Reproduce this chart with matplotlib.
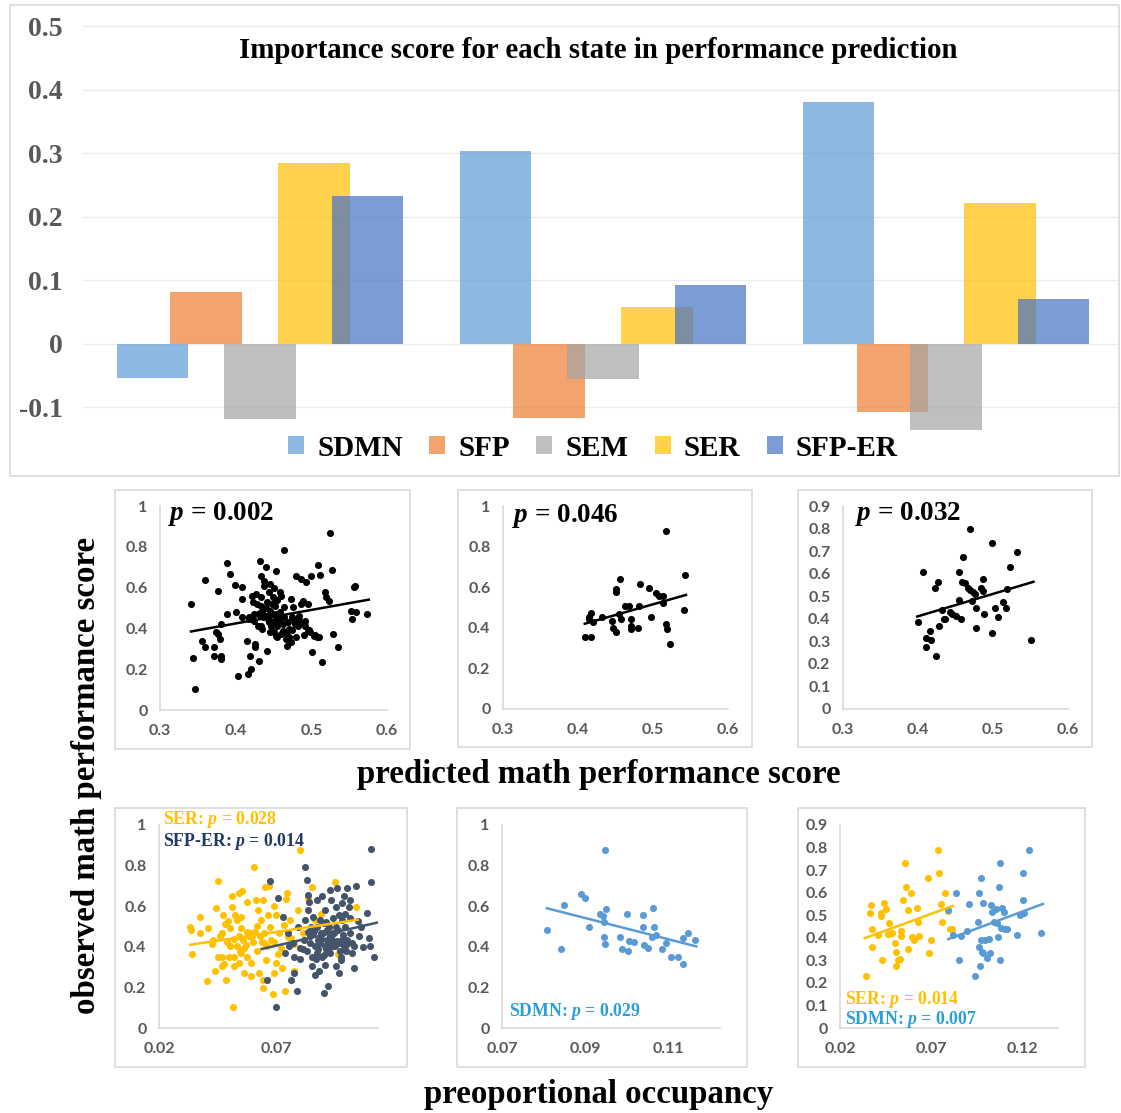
import matplotlib
matplotlib.use("Agg")
import matplotlib.pyplot as plt
from matplotlib.patches import Rectangle
import numpy as np

plt.rcParams["mathtext.fontset"] = "custom"
plt.rcParams["mathtext.it"] = "Liberation Serif:italic:bold"
plt.rcParams["mathtext.rm"] = "Liberation Serif:bold"
plt.rcParams["mathtext.bf"] = "Liberation Serif:bold"

W, H = 1121, 1113

# ---------------- data: importance scores ----------------
series_names = ["SDMN", "SFP", "SEM", "SER", "SFP-ER"]
groups = [0, 1, 2]
sdmn_imp = [-0.054, 0.304, 0.380]
sfp_imp = [0.082, -0.117, -0.108]
sem_imp = [-0.118, -0.056, -0.136]
ser_imp = [0.285, 0.058, 0.222]
sfper_imp = [0.233, 0.093, 0.071]
imp_ticks = [-0.1, 0, 0.1, 0.2, 0.3, 0.4, 0.5]
imp_tick_labels = ["-0.1", "0", "0.1", "0.2", "0.3", "0.4", "0.5"]
title = "Importance score for each state in performance prediction"

# ---------------- data: predicted vs observed ----------------
p1_x = [0.341,0.344,0.346,0.356,0.359,0.359,0.371,0.371,0.374,0.376,
        0.376,0.379,0.380,0.380,0.381,0.388,0.388,0.392,0.399,0.401,
        0.403,0.408,0.408,0.408,0.415,0.416,0.418,0.418,0.419,0.420,
        0.422,0.423,0.424,0.424,0.426,0.426,0.427,0.428,0.429,0.431,
        0.432,0.433,0.433,0.433,0.434,0.434,0.435,0.436,0.437,0.438,
        0.440,0.441,0.442,0.443,0.444,0.444,0.445,0.446,0.447,0.449,
        0.449,0.450,0.451,0.452,0.453,0.453,0.455,0.456,0.458,0.459,
        0.460,0.462,0.464,0.464,0.464,0.467,0.468,0.469,0.471,0.473,
        0.473,0.474,0.476,0.478,0.480,0.480,0.482,0.484,0.486,0.487,
        0.489,0.491,0.491,0.493,0.495,0.496,0.498,0.500,0.501,0.503,
        0.507,0.509,0.512,0.514,0.518,0.520,0.523,0.525,0.527,0.528,
        0.535,0.552,0.554,0.557,0.558,0.574,0.559,
        0.447,0.452,0.458,0.462,0.455,0.440,0.430,0.421,0.486,0.490,
        0.497,0.505,0.510,0.470,0.468,0.448,0.455,0.460,0.445,0.450,
        0.475,0.478,0.482,0.435,0.440]
p1_y = [0.520,0.257,0.102,0.339,0.307,0.639,0.307,0.266,0.380,0.585,
        0.372,0.348,0.266,0.249,0.421,0.470,0.721,0.667,0.613,0.479,
        0.167,0.602,0.544,0.454,0.339,0.175,0.454,0.446,0.266,0.200,
        0.560,0.528,0.470,0.438,0.323,0.307,0.570,0.520,0.413,0.241,
        0.728,0.554,0.511,0.479,0.413,0.659,0.397,0.454,0.610,0.634,
        0.700,0.528,0.290,0.446,0.577,0.430,0.487,0.380,0.470,0.552,
        0.430,0.438,0.380,0.511,0.682,0.364,0.413,0.454,0.479,0.577,
        0.372,0.387,0.782,0.454,0.503,0.348,0.315,0.430,0.397,0.331,
        0.544,0.454,0.503,0.430,0.659,0.356,0.446,0.462,0.520,0.643,
        0.536,0.413,0.438,0.629,0.520,0.389,0.380,0.659,0.282,0.364,
        0.356,0.711,0.664,0.233,0.577,0.552,0.536,0.869,0.684,0.372,
        0.307,0.487,0.446,0.602,0.610,0.470,0.479,
        0.41,0.47,0.43,0.42,0.36,0.46,0.47,0.45,0.43,0.37,
        0.39,0.37,0.36,0.36,0.37,0.52,0.54,0.56,0.62,0.60,
        0.39,0.42,0.41,0.48,0.50]
p1_trend_x = [0.341, 0.576]
p1_trend_y = [0.385, 0.541]

p2_x = [0.409,0.417,0.414,0.417,0.415,0.420,0.432,0.445,0.446,0.450,
        0.451,0.450,0.454,0.456,0.457,0.463,0.468,0.470,0.471,0.471,
        0.481,0.480,0.483,0.494,0.497,0.504,0.508,0.513,0.513,0.517,
        0.517,0.518,0.522,0.541,0.543]
p2_y = [0.355,0.355,0.453,0.471,0.441,0.430,0.453,0.433,0.397,0.380,
        0.574,0.590,0.466,0.640,0.441,0.507,0.507,0.441,0.408,0.392,
        0.507,0.397,0.615,0.595,0.453,0.569,0.557,0.557,0.521,0.879,
        0.417,0.392,0.321,0.486,0.661]
p2_trend_x = [0.409, 0.544]
p2_trend_y = [0.420, 0.562]

p3_x = [0.400,0.406,0.410,0.411,0.416,0.417,0.422,0.424,0.426,0.428,
        0.432,0.434,0.436,0.442,0.445,0.450,0.454,0.454,0.457,0.458,
        0.460,0.462,0.466,0.469,0.469,0.472,0.473,0.476,0.477,0.477,
        0.484,0.486,0.486,0.488,0.498,0.498,0.502,0.506,0.513,0.517,
        0.519,0.523,0.532,0.551]
p3_y = [0.387,0.608,0.277,0.314,0.347,0.305,0.537,0.233,0.562,0.366,
        0.440,0.399,0.399,0.429,0.422,0.414,0.484,0.608,0.399,0.564,
        0.673,0.559,0.538,0.798,0.526,0.481,0.519,0.508,0.447,0.359,
        0.538,0.523,0.576,0.419,0.736,0.338,0.447,0.407,0.474,0.447,
        0.532,0.631,0.694,0.305]
p3_trend_x = [0.399, 0.554]
p3_trend_y = [0.410, 0.564]

# ---------------- data: occupancy vs observed ----------------
p4_ser_x = [0.0333,0.0338,0.0342,0.0377,0.0377,0.0403,0.0425,0.0439,0.0442,0.0454,
            0.0461,0.0468,0.0475,0.0478,0.0483,0.0487,0.0493,0.0497,0.0504,0.0512,
            0.0512,0.0516,0.0519,0.0522,0.0526,0.0533,0.0541,0.0541,0.0545,0.0548,
            0.0551,0.0555,0.0559,0.0562,0.0570,0.0574,0.0577,0.0584,0.0588,0.0594,
            0.0603,0.0606,0.0609,0.0613,0.0620,0.0623,0.0628,0.0635,0.0638,0.0642,
            0.0646,0.0649,0.0652,0.0657,0.0661,0.0667,0.0671,0.0678,0.0686,0.0690,
            0.0693,0.0700,0.0707,0.0714,0.0725,0.0736,0.0743,0.0748,0.0751,0.0758,
            0.0765,0.0777,0.0794,0.0803,0.0813,0.0852,0.0893,0.0951,0.0965,0.1041,
            0.0410,0.0432,0.0471,0.0490,0.0501,0.0533,0.0548,0.0565,0.0577,0.0599,
            0.0617,0.0632,0.0649,0.0675,0.0693,0.0722,0.0733,0.0777,0.0835,0.0864,
            0.0454,0.0468,0.0519,0.0541,0.0591,0.0646,0.0700]
p4_ser_y = [0.500,0.484,0.366,0.549,0.467,0.230,0.415,0.279,0.590,0.726,
            0.451,0.352,0.557,0.316,0.513,0.238,0.525,0.352,0.402,0.648,
            0.598,0.103,0.438,0.303,0.557,0.533,0.664,0.451,0.377,0.546,
            0.492,0.677,0.434,0.270,0.410,0.623,0.352,0.451,0.470,0.254,
            0.426,0.792,0.475,0.631,0.377,0.582,0.270,0.533,0.426,0.197,
            0.631,0.470,0.693,0.336,0.402,0.557,0.700,0.434,0.169,0.270,
            0.602,0.557,0.366,0.470,0.295,0.180,0.634,0.667,0.448,0.533,
            0.443,0.415,0.582,0.877,0.470,0.693,0.562,0.721,0.366,0.598,
            0.492,0.434,0.467,0.426,0.492,0.402,0.369,0.393,0.475,0.451,
            0.503,0.451,0.418,0.500,0.426,0.393,0.508,0.279,0.639,0.533,
            0.352,0.303,0.352,0.320,0.320,0.238,0.320]
p4_ser_trend_x = [0.0333, 0.1048]
p4_ser_trend_y = [0.410, 0.533]

p4_sfper_x = [0.0675,0.0700,0.0661,0.0707,0.0728,0.0736,0.0762,0.0777,0.0788,0.0803,
              0.0823,0.0830,0.0835,0.0838,0.0846,0.0852,0.0855,0.0859,0.0867,0.0874,
              0.0878,0.0884,0.0888,0.0896,0.0900,0.0903,0.0907,0.0910,0.0917,0.0922,
              0.0925,0.0928,0.0932,0.0936,0.0939,0.0942,0.0946,0.0951,0.0954,0.0957,
              0.0961,0.0965,0.0968,0.0975,0.0980,0.0983,0.0990,0.0996,0.0999,0.1004,
              0.1012,0.1017,0.1026,0.1032,0.1043,0.1048,0.1088,0.1096,0.1099,0.1103,
              0.1106,0.1120,0.0751,0.0772,0.0794,0.0800,0.0817,0.0823,0.0838,0.0859,
              0.0874,0.0888,0.0903,0.0917,0.0932,0.0946,0.0968,0.0983,0.1004,0.1017,
              0.1032,0.0910,0.0968,0.0867,0.0830,0.0777,0.0755,0.0925,0.0990,0.1055,
              0.1062,0.0896,0.0874,
              0.0845,0.0862,0.0880,0.0893,0.0905,0.0915,0.0930,0.0944,0.0958,0.0972,
              0.0986,0.1000,0.1015,0.0850,0.0870,0.0890,0.0912,0.0935,0.0955,0.0978,
              0.0995,0.1022,0.0815,0.0840,0.1070]
p4_sfper_y = [0.726,0.103,0.238,0.639,0.549,0.369,0.238,0.270,0.180,0.339,
              0.795,0.730,0.656,0.582,0.451,0.303,0.352,0.549,0.402,0.500,
              0.434,0.279,0.533,0.352,0.467,0.172,0.402,0.582,0.434,0.205,
              0.500,0.680,0.369,0.631,0.434,0.541,0.467,0.402,0.598,0.303,
              0.689,0.484,0.557,0.336,0.615,0.434,0.648,0.500,0.377,0.689,
              0.598,0.467,0.369,0.295,0.700,0.525,0.566,0.443,0.402,0.880,
              0.721,0.352,0.467,0.418,0.500,0.393,0.434,0.533,0.475,0.467,
              0.369,0.418,0.516,0.484,0.451,0.402,0.418,0.533,0.434,0.631,
              0.402,0.311,0.270,0.262,0.377,0.352,0.402,0.426,0.402,0.451,
              0.500,0.648,0.631,
              0.420,0.480,0.390,0.440,0.360,0.520,0.400,0.470,0.430,0.380,
              0.460,0.410,0.540,0.500,0.340,0.470,0.390,0.450,0.500,0.350,
              0.560,0.420,0.390,0.620,0.400]
p4_sfper_trend_x = [0.0638, 0.1135]
p4_sfper_trend_y = [0.389, 0.520]

p5_x = [0.0809,0.0843,0.0849,0.0890,0.0900,0.0909,0.0935,0.0943,0.0945,0.0945,
        0.0947,0.0947,0.0951,0.0983,0.0990,0.1002,0.1003,0.1006,0.1017,0.1039,
        0.1040,0.1041,0.1051,0.1061,0.1063,0.1067,0.1071,0.1085,0.1096,0.1107,
        0.1123,0.1135,0.1135,0.1149,0.1164]
p5_y = [0.484,0.390,0.607,0.661,0.638,0.500,0.562,0.552,0.520,0.448,
        0.877,0.413,0.587,0.448,0.390,0.562,0.377,0.430,0.426,0.557,
        0.500,0.408,0.393,0.448,0.593,0.500,0.459,0.390,0.418,0.349,
        0.349,0.315,0.443,0.470,0.434]
p5_trend_x = [0.0808, 0.1168]
p5_trend_y = [0.590, 0.402]

p6_ser_x = [0.0343,0.0363,0.0370,0.0376,0.0376,0.0407,0.0428,0.0422,0.0426,0.0441,
            0.0450,0.0469,0.0465,0.0487,0.0500,0.0506,0.0509,0.0515,0.0530,0.0533,
            0.0533,0.0546,0.0556,0.0561,0.0574,0.0574,0.0589,0.0593,0.0604,0.0619,
            0.0626,0.0635,0.0681,0.0685,0.0700,0.0737,0.0741,0.0752,0.0756,0.0774,
            0.0793,0.0802,0.0815]
p6_ser_y = [0.229,0.512,0.546,0.438,0.361,0.413,0.300,0.509,0.497,0.556,
            0.527,0.465,0.416,0.420,0.379,0.335,0.273,0.300,0.305,0.432,
            0.406,0.568,0.730,0.623,0.524,0.350,0.600,0.403,0.388,0.531,
            0.472,0.406,0.667,0.332,0.391,0.789,0.686,0.549,0.468,0.598,
            0.519,0.438,0.438]
p6_ser_trend_x = [0.0335, 0.0817]
p6_ser_trend_y = [0.398, 0.541]

p6_sdmn_x = [0.0793,0.0820,0.0833,0.0854,0.0863,0.0894,0.0909,0.0941,0.0956,0.0959,
             0.0963,0.0969,0.0972,0.0974,0.0978,0.0981,0.0985,0.0996,0.1006,0.1015,
             0.1024,0.1028,0.1033,0.1043,0.1052,0.1061,0.1065,0.1070,0.1074,0.1076,
             0.1080,0.1089,0.1098,0.1104,0.1117,0.1172,0.1185,0.1200,0.1200,0.1209,
             0.1233,0.1302]
p6_sdmn_y = [0.524,0.413,0.598,0.300,0.409,0.432,0.550,0.229,0.468,0.598,
             0.361,0.273,0.667,0.391,0.339,0.553,0.332,0.391,0.310,0.394,
             0.332,0.546,0.516,0.472,0.527,0.465,0.403,0.623,0.730,0.300,
             0.443,0.531,0.516,0.438,0.438,0.413,0.502,0.686,0.568,0.509,
             0.789,0.423]
p6_sdmn_trend_x = [0.0793, 0.1311]
p6_sdmn_trend_y = [0.394, 0.550]

# ticks
pred_xticks = [0.3, 0.4, 0.5, 0.6]
pred_xticklabels = ["0.3", "0.4", "0.5", "0.6"]
y1_ticks = [0, 0.2, 0.4, 0.6, 0.8, 1.0]
y1_ticklabels = ["0", "0.2", "0.4", "0.6", "0.8", "1"]
y09_ticks = [0, 0.1, 0.2, 0.3, 0.4, 0.5, 0.6, 0.7, 0.8, 0.9]
y09_ticklabels = ["0", "0.1", "0.2", "0.3", "0.4", "0.5", "0.6", "0.7", "0.8", "0.9"]
occ4_xticks = [0.02, 0.07]
occ4_xticklabels = ["0.02", "0.07"]
occ5_xticks = [0.07, 0.09, 0.11]
occ5_xticklabels = ["0.07", "0.09", "0.11"]
occ6_xticks = [0.02, 0.07, 0.12]
occ6_xticklabels = ["0.02", "0.07", "0.12"]

# ---------------- styles ----------------
SERIF = "Liberation Serif"
C_SDMN, C_SFP, C_SEM, C_SER, C_SFPER = "#5B9BD5", "#ED7D31", "#A5A5A5", "#FFC000", "#4472C4"
C_DARK = "#44546A"
GRID = "#D9D9D9"
TICKC = "#595959"

fig = plt.figure(figsize=(W / 100, H / 100), dpi=100)


def ax_px(l, t, r, b):
    return fig.add_axes([l / W, 1 - b / H, (r - l) / W, (b - t) / H])


def box_px(l, t, r, b):
    fig.patches.append(Rectangle((l / W, 1 - b / H), (r - l) / W, (b - t) / H,
                                 transform=fig.transFigure, fill=False,
                                 edgecolor=GRID, lw=1.2, zorder=0))


def ftext(x, y, s, **kw):
    return fig.text(x / W, 1 - y / H, s, **kw)


# ---------------- top bar chart ----------------
box_px(10, 5, 1119, 476)
ax = ax_px(82, 23, 1119, 439)
vals_list = [sdmn_imp, sfp_imp, sem_imp, ser_imp, sfper_imp]
colors = [C_SDMN, C_SFP, C_SEM, C_SER, C_SFPER]
handles = []
g = np.array(groups, dtype=float)
for i, (vals, col) in enumerate(zip(vals_list, colors)):
    bc = ax.bar(g + (i - 2) * 0.1567, vals, width=0.209, color=col, alpha=0.7,
                linewidth=0, zorder=2 + i)
    handles.append(bc)
ax.set_xlim(-0.519, 2.504)
ax.set_ylim(-0.15, 0.505)
ax.set_yticks(imp_ticks)
ax.set_yticklabels(imp_tick_labels)
ax.set_xticks([])
ax.yaxis.grid(True, color="#EEEEEE", lw=1)
ax.set_axisbelow(True)
for s in ax.spines.values():
    s.set_visible(False)
ax.tick_params(axis="y", length=0, pad=14, labelcolor=TICKC)
for lab in ax.get_yticklabels():
    lab.set_fontfamily(SERIF)
    lab.set_fontweight("bold")
    lab.set_fontsize(20)
ax.patch.set_alpha(0)

ftext(598, 50, title, ha="center", va="center", fontsize=20.8,
      fontweight="bold", family=SERIF, color="black")

fig.legend(handles, series_names, loc="center", bbox_to_anchor=(593 / W, 1 - 448 / H),
           ncol=5, frameon=False, prop={"family": SERIF, "weight": "bold", "size": 21},
           handlelength=0.55, handleheight=0.55, handletextpad=0.45, columnspacing=0.9)


# ---------------- scatter panels ----------------
def setup(a, xlim, xt, xtl, ylim, yt, ytl):
    a.set_xlim(*xlim)
    a.set_ylim(*ylim)
    a.set_xticks(xt)
    a.set_xticklabels(xtl)
    a.set_yticks(yt)
    a.set_yticklabels(ytl)
    for k in ("top", "right"):
        a.spines[k].set_visible(False)
    for k in ("left", "bottom"):
        a.spines[k].set_color(GRID)
        a.spines[k].set_linewidth(1.2)
    a.tick_params(length=0, labelcolor=TICKC)
    a.tick_params(axis="y", pad=9)
    a.tick_params(axis="x", pad=10)
    for lab in a.get_xticklabels() + a.get_yticklabels():
        lab.set_fontfamily("Lato")
        lab.set_fontweight("bold")
        lab.set_fontsize(11.5)
    a.patch.set_alpha(0)


MS = 26
LW = 1.8

# row 1
box_px(115, 490, 410, 749)
a1 = ax_px(160, 506, 387, 710)
a1.scatter(p1_x, p1_y, s=MS, color="black", linewidths=0, zorder=3)
a1.plot(p1_trend_x, p1_trend_y, color="black", lw=LW, zorder=4)
setup(a1, (0.3, 0.6), pred_xticks, pred_xticklabels, (0, 1), y1_ticks, y1_ticklabels)

box_px(458, 490, 752, 747)
a2 = ax_px(503, 506, 728, 709)
a2.scatter(p2_x, p2_y, s=MS, color="black", linewidths=0, zorder=3)
a2.plot(p2_trend_x, p2_trend_y, color="black", lw=LW, zorder=4)
setup(a2, (0.3, 0.6), pred_xticks, pred_xticklabels, (0, 1), y1_ticks, y1_ticklabels)

box_px(798, 490, 1092, 747)
a3 = ax_px(843, 506, 1068, 709)
a3.scatter(p3_x, p3_y, s=MS, color="black", linewidths=0, zorder=3)
a3.plot(p3_trend_x, p3_trend_y, color="black", lw=LW, zorder=4)
setup(a3, (0.3, 0.6), pred_xticks, pred_xticklabels, (0, 0.9), y09_ticks, y09_ticklabels)

# row 2
box_px(115, 808, 407, 1067)
a4 = ax_px(159, 825, 378, 1028)
a4.scatter(p4_ser_x, p4_ser_y, s=MS, color=C_SER, linewidths=0, zorder=3)
a4.scatter(p4_sfper_x, p4_sfper_y, s=MS, color=C_DARK, linewidths=0, zorder=3)
a4.plot(p4_ser_trend_x, p4_ser_trend_y, color=C_SER, lw=LW, zorder=4)
a4.plot(p4_sfper_trend_x, p4_sfper_trend_y, color=C_DARK, lw=LW, zorder=4)
setup(a4, (0.02, 0.1135), occ4_xticks, occ4_xticklabels, (0, 1), y1_ticks, y1_ticklabels)

box_px(457, 808, 747, 1067)
a5 = ax_px(502, 825, 720, 1028)
a5.scatter(p5_x, p5_y, s=MS, color=C_SDMN, linewidths=0, zorder=3)
a5.plot(p5_trend_x, p5_trend_y, color=C_SDMN, lw=LW, zorder=4)
setup(a5, (0.07, 0.1225), occ5_xticks, occ5_xticklabels, (0, 1), y1_ticks, y1_ticklabels)

box_px(798, 808, 1085, 1067)
a6 = ax_px(840, 825, 1058, 1028)
a6.scatter(p6_ser_x, p6_ser_y, s=MS, color=C_SER, linewidths=0, zorder=3)
a6.scatter(p6_sdmn_x, p6_sdmn_y, s=MS, color=C_SDMN, linewidths=0, zorder=3)
a6.plot(p6_ser_trend_x, p6_ser_trend_y, color=C_SER, lw=LW, zorder=4)
a6.plot(p6_sdmn_trend_x, p6_sdmn_trend_y, color=C_SDMN, lw=LW, zorder=4)
setup(a6, (0.02, 0.1394), occ6_xticks, occ6_xticklabels, (0, 0.9), y09_ticks, y09_ticklabels)

# annotations
pk = dict(ha="left", va="center", family=SERIF, fontweight="bold")
ftext(168, 514, r"$p$ = 0.002", fontsize=19.5, color="black", **pk)
ftext(512, 516, r"$p$ = 0.046", fontsize=19.5, color="black", **pk)
ftext(855, 514, r"$p$ = 0.032", fontsize=19.5, color="black", **pk)

C_TXT_BLUE = "#2A9FD8"
C_TXT_NAVY = "#203864"
ftext(163, 820, r"SER: $p$ = 0.028", fontsize=12.8, color=C_SER, **pk)
ftext(163, 841, r"SFP-ER: $p$ = 0.014", fontsize=12.8, color=C_TXT_NAVY, **pk)
ftext(509, 1011, r"SDMN: $p$ = 0.029", fontsize=12.8, color=C_TXT_BLUE, **pk)
ftext(845, 999, r"SER: $p$ = 0.014", fontsize=12.8, color=C_SER, **pk)
ftext(845, 1019, r"SDMN: $p$ = 0.007", fontsize=12.8, color=C_TXT_BLUE, **pk)

lk = dict(ha="center", va="center", family=SERIF, fontweight="bold", fontsize=23.7, color="black")
ftext(87, 775, "observed math performance score", rotation=90, **lk)
ftext(599, 775, "predicted math performance score", **lk)
ftext(599, 1095, "preoportional occupancy", **lk)

fig.savefig("out.png", dpi=100, facecolor="white")
